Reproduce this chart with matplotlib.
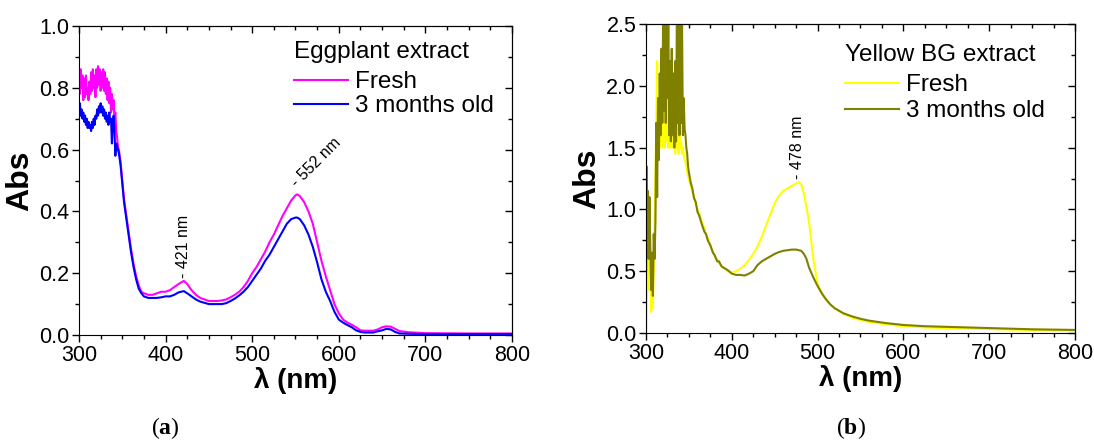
import matplotlib
matplotlib.use("Agg")
import matplotlib.pyplot as plt
from matplotlib.ticker import MultipleLocator, FormatStrFormatter

plt.rcParams['font.family'] = ['Liberation Sans', 'DejaVu Sans']
plt.rcParams['mathtext.fontset'] = 'custom'
plt.rcParams['mathtext.rm'] = 'Liberation Serif'
plt.rcParams['mathtext.bf'] = 'Liberation Serif:bold'

# (a) Eggplant extract: wavelength (nm) and absorbance
egg_wl = [300, 301, 302, 303, 304, 305, 306, 307, 308, 309, 310, 311, 312, 313, 314, 315,
          316, 317, 318, 319, 320, 321, 322, 323, 324, 325, 326, 327, 328, 329, 330, 331,
          332, 333, 334, 335, 336, 337, 338, 339, 340, 341, 342, 343, 344, 345, 346, 347,
          348, 350, 352, 355, 358, 360, 363, 366, 369, 372, 375, 380, 385, 390, 395, 400,
          405, 410, 415, 421, 425, 430, 435, 440, 445, 450, 455, 460, 465, 470, 475, 480,
          485, 490, 495, 500, 505, 510, 515, 520, 525, 530, 535, 540, 545, 550, 552, 555,
          560, 565, 570, 575, 580, 585, 590, 595, 600, 605, 610, 615, 620, 625, 630, 640,
          645, 650, 655, 660, 665, 670, 680, 700, 750, 800]
egg_fresh = [0.86, 0.78, 0.86, 0.80, 0.84, 0.76, 0.83, 0.77, 0.84, 0.78, 0.80, 0.76, 0.82, 0.78,
             0.85, 0.79, 0.86, 0.80, 0.84, 0.77, 0.86, 0.80, 0.87, 0.81, 0.86, 0.79, 0.85, 0.80,
             0.86, 0.79, 0.85, 0.78, 0.83, 0.76, 0.82, 0.75, 0.80, 0.72, 0.78, 0.73, 0.76, 0.70,
             0.72, 0.66, 0.64, 0.61, 0.60, 0.58, 0.56, 0.50, 0.44, 0.38, 0.32, 0.28, 0.23, 0.19,
             0.16, 0.14, 0.135, 0.13, 0.13, 0.135, 0.14, 0.14, 0.145, 0.155, 0.165, 0.175, 0.165,
             0.145, 0.13, 0.12, 0.115, 0.11, 0.11, 0.11, 0.112, 0.115, 0.122, 0.13, 0.14, 0.155,
             0.175, 0.20, 0.22, 0.245, 0.27, 0.30, 0.325, 0.355, 0.385, 0.41, 0.435, 0.452,
             0.455, 0.45, 0.43, 0.40, 0.36, 0.30, 0.24, 0.19, 0.145, 0.10, 0.07, 0.05, 0.04,
             0.033, 0.025, 0.015, 0.014, 0.014, 0.018, 0.025, 0.028, 0.027, 0.02, 0.013, 0.009,
             0.006, 0.005, 0.005]
egg_old = [0.70, 0.75, 0.71, 0.73, 0.70, 0.72, 0.69, 0.71, 0.68, 0.70, 0.67, 0.69, 0.67, 0.68,
           0.66, 0.69, 0.67, 0.70, 0.68, 0.71, 0.70, 0.73, 0.71, 0.74, 0.72, 0.75, 0.72, 0.74,
           0.71, 0.73, 0.70, 0.72, 0.69, 0.71, 0.68, 0.72, 0.69, 0.70, 0.62, 0.68, 0.71, 0.66,
           0.58, 0.62, 0.61, 0.60, 0.59, 0.57, 0.55, 0.49, 0.43, 0.37, 0.31, 0.27, 0.22, 0.18,
           0.15, 0.135, 0.125, 0.12, 0.12, 0.12, 0.122, 0.125, 0.125, 0.13, 0.138, 0.142, 0.135,
           0.125, 0.115, 0.108, 0.104, 0.10, 0.10, 0.10, 0.10, 0.103, 0.11, 0.118, 0.128, 0.14,
           0.155, 0.175, 0.195, 0.215, 0.24, 0.26, 0.285, 0.31, 0.335, 0.36, 0.375, 0.38, 0.38,
           0.375, 0.355, 0.325, 0.285, 0.235, 0.18, 0.14, 0.11, 0.075, 0.05, 0.04, 0.032, 0.025,
           0.015, 0.01, 0.008, 0.008, 0.012, 0.015, 0.02, 0.018, 0.01, 0.005, 0.004, 0.003,
           0.003, 0.003]

# (b) Yellow BG extract
ybg_wl = [300, 300.5, 301, 302, 303, 304, 305, 306, 307, 308, 309, 310, 311, 312, 313, 314,
          315, 316, 317, 318, 319, 320, 321, 322, 323, 324, 325, 326, 327, 328, 329, 330,
          331, 332, 333, 334, 335, 336, 337, 338, 339, 340, 341, 342, 343, 344, 345, 346,
          347, 348, 349, 350, 352, 354, 356, 358, 360, 362, 365, 368, 370, 372, 375, 378,
          380, 383, 385, 388, 390, 395, 400, 405, 410, 415, 420, 425, 430, 435, 440, 445,
          450, 455, 460, 465, 470, 475, 478, 481, 484, 487, 490, 495, 500, 505, 510, 515,
          520, 530, 540, 550, 560, 580, 600, 625, 650, 700, 750, 800]
ybg_fresh = [0.2, 0.6, 1.0, 0.5, 0.9, 0.35, 0.6, 0.17, 0.4, 0.2, 0.5, 0.9, 1.3, 1.7, 2.2, 1.6,
             1.9, 1.5, 2.0, 1.55, 2.1, 1.5, 1.9, 1.5, 2.0, 1.55, 1.9, 1.5, 1.8, 1.5, 1.7, 1.5,
             1.8, 1.5, 1.75, 1.45, 1.7, 1.5, 1.75, 1.45, 1.6, 1.5, 1.55, 1.45, 1.5, 1.45, 1.4,
             1.38, 1.35, 1.3, 1.27, 1.24, 1.2, 1.14, 1.1, 1.04, 1.0, 0.97, 0.9, 0.85, 0.79,
             0.77, 0.7, 0.66, 0.62, 0.59, 0.57, 0.54, 0.53, 0.5, 0.49, 0.5, 0.52, 0.55, 0.59,
             0.64, 0.7, 0.78, 0.87, 0.96, 1.05, 1.11, 1.15, 1.17, 1.19, 1.21, 1.22, 1.2, 1.13,
             1.02, 0.9, 0.6, 0.4, 0.32, 0.27, 0.23, 0.2, 0.155, 0.125, 0.105, 0.09, 0.07, 0.055,
             0.045, 0.04, 0.032, 0.024, 0.018]
ybg_old = [0.0, 1.35, 0.9, 1.15, 0.6, 1.1, 0.7, 0.35, 0.65, 0.3, 0.8, 0.6, 0.9, 1.7, 1.1, 1.9,
           1.4, 2.1, 1.6, 2.3, 1.7, 2.6, 1.8, 2.7, 1.7, 2.6, 1.9, 2.6, 1.6, 2.2, 1.55, 2.3,
           1.6, 2.1, 1.5, 2.2, 1.55, 2.6, 1.7, 2.7, 1.6, 2.6, 1.7, 2.5, 1.6, 1.9, 1.65, 1.6,
           1.5, 1.45, 1.35, 1.3, 1.22, 1.17, 1.09, 1.06, 0.98, 0.95, 0.88, 0.82, 0.8, 0.75,
           0.71, 0.65, 0.63, 0.58, 0.58, 0.54, 0.53, 0.51, 0.48, 0.47, 0.47, 0.465, 0.48, 0.5,
           0.55, 0.58, 0.6, 0.62, 0.64, 0.655, 0.665, 0.67, 0.675, 0.675, 0.67, 0.665, 0.64,
           0.6, 0.53, 0.45, 0.38, 0.32, 0.27, 0.23, 0.2, 0.16, 0.135, 0.115, 0.1, 0.08, 0.065,
           0.055, 0.05, 0.04, 0.03, 0.025]

TICK_FS = 15.5
LEG_FS = 17.5


def style_axes(ax, ymax, ymajor, yminor):
    ax.set_xlim(300, 800)
    ax.set_ylim(0, ymax)
    ax.xaxis.set_major_locator(MultipleLocator(100))
    ax.xaxis.set_minor_locator(MultipleLocator(25))
    ax.yaxis.set_major_locator(MultipleLocator(ymajor))
    ax.yaxis.set_minor_locator(MultipleLocator(yminor))
    ax.yaxis.set_major_formatter(FormatStrFormatter('%.1f'))
    ax.tick_params(which='both', direction='out', top=False, right=False,
                   labelsize=TICK_FS, width=1, pad=2)
    ax.tick_params(which='major', length=5)
    ax.tick_params(which='minor', length=3)
    # mirror ticks on top and right point inwards
    sec_x = ax.secondary_xaxis('top')
    sec_x.xaxis.set_major_locator(MultipleLocator(100))
    sec_x.xaxis.set_minor_locator(MultipleLocator(25))
    sec_x.tick_params(which='both', direction='in', labeltop=False, width=1)
    sec_x.tick_params(which='major', length=5)
    sec_x.tick_params(which='minor', length=3)
    sec_y = ax.secondary_yaxis('right')
    sec_y.yaxis.set_major_locator(MultipleLocator(ymajor))
    sec_y.yaxis.set_minor_locator(MultipleLocator(yminor))
    sec_y.tick_params(which='both', direction='in', labelright=False, width=1)
    sec_y.tick_params(which='major', length=5)
    sec_y.tick_params(which='minor', length=3)
    ax.set_xlabel('λ (nm)', fontsize=20, fontweight='bold', labelpad=1)
    ax.set_ylabel('Abs', fontsize=23, fontweight='bold', labelpad=3)


def add_legend(ax, title, anchor, spacing, title_gap):
    leg = ax.legend(title=title, loc='upper left', bbox_to_anchor=anchor,
                    frameon=False, fontsize=LEG_FS, title_fontsize=LEG_FS, handlelength=2.2,
                    handletextpad=0.3, labelspacing=spacing, borderpad=0, borderaxespad=0,
                    alignment='left')
    # a bit more room between the title and the first entry
    leg._legend_box.sep = title_gap
    return leg


fig = plt.figure(figsize=(10.94, 4.43), dpi=100)
ax_a = fig.add_axes([0.0722, 0.2438, 0.3958, 0.6975])
ax_b = fig.add_axes([0.5905, 0.2483, 0.3921, 0.6975])

ax_a.plot(egg_wl, egg_fresh, color='#ff00ff', lw=1.5, label='Fresh')
ax_a.plot(egg_wl, egg_old, color='#0000ff', lw=1.5, label='3 months old')
style_axes(ax_a, 1.0, 0.2, 0.1)
add_legend(ax_a, 'Eggplant extract', (0.497, 0.95), 0.08, 5.5)
ax_a.text(421, 0.185, '- 421 nm', rotation=90, ha='center', va='bottom', fontsize=11.5)
ax_a.text(554, 0.47, '- 552 nm', rotation=45, ha='left', va='bottom', fontsize=11.5,
          rotation_mode='anchor')

ax_b.plot(ybg_wl, ybg_fresh, color='#ffff00', lw=1.5, label='Fresh')
ax_b.plot(ybg_wl, ybg_old, color='#808000', lw=1.5, label='3 months old')
style_axes(ax_b, 2.5, 0.5, 0.25)
add_legend(ax_b, 'Yellow BG extract', (0.464, 0.935), 0.15, 6.0)
ax_b.text(477, 1.25, '- 478 nm', rotation=90, ha='center', va='bottom', fontsize=11.5)

fig.text(0.151, 0.005, r'$(\mathbf{a})$', ha='center', va='bottom', fontsize=17)
fig.text(0.778, 0.005, r'$(\mathbf{b})$', ha='center', va='bottom', fontsize=17)

fig.savefig('out.png', dpi=100)
